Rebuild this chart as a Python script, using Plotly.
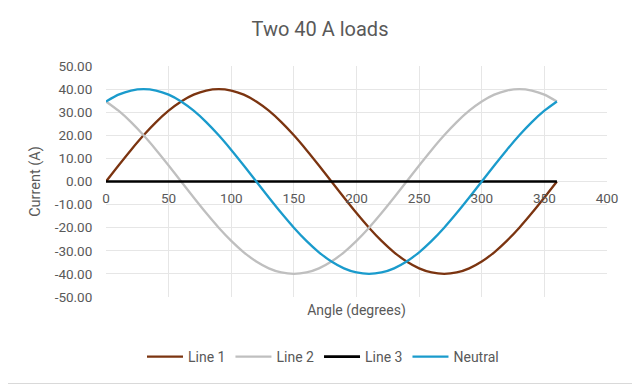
import plotly.graph_objects as go

angles = [0, 10, 20, 30, 40, 50, 60, 70, 80, 90, 100, 110, 120, 130, 140, 150, 160, 170, 180,
          190, 200, 210, 220, 230, 240, 250, 260, 270, 280, 290, 300, 310, 320, 330, 340, 350, 360]

line1 = [0, 6.95, 13.68, 20.00, 25.71, 30.64, 34.64, 37.59, 39.39, 40.00, 39.39, 37.59, 34.64,
         30.64, 25.71, 20.00, 13.68, 6.95, 0, -6.95, -13.68, -20.00, -25.71, -30.64, -34.64,
         -37.59, -39.39, -40.00, -39.39, -37.59, -34.64, -30.64, -25.71, -20.00, -13.68, -6.95, 0]

line2 = [34.64, 30.64, 25.71, 20.00, 13.68, 6.95, 0, -6.95, -13.68, -20.00, -25.71, -30.64, -34.64,
         -37.59, -39.39, -40.00, -39.39, -37.59, -34.64, -30.64, -25.71, -20.00, -13.68, -6.95, 0,
         6.95, 13.68, 20.00, 25.71, 30.64, 34.64, 37.59, 39.39, 40.00, 39.39, 37.59, 34.64]

line3 = [0, 0, 0, 0, 0, 0, 0, 0, 0, 0, 0, 0, 0, 0, 0, 0, 0, 0, 0,
         0, 0, 0, 0, 0, 0, 0, 0, 0, 0, 0, 0, 0, 0, 0, 0, 0, 0]

neutral = [34.64, 37.59, 39.39, 40.00, 39.39, 37.59, 34.64, 30.64, 25.71, 20.00, 13.68, 6.95, 0,
           -6.95, -13.68, -20.00, -25.71, -30.64, -34.64, -37.59, -39.39, -40.00, -39.39, -37.59,
           -34.64, -30.64, -25.71, -20.00, -13.68, -6.95, 0, 6.95, 13.68, 20.00, 25.71, 30.64, 34.64]

y_ticks = [50, 40, 30, 20, 10, 0, -10, -20, -30, -40, -50]
y_tick_labels = ["50.00", "40.00", "30.00", "20.00", "10.00", "0.00",
                 "-10.00", "-20.00", "-30.00", "-40.00", "-50.00"]
x_ticks = [0, 50, 100, 150, 200, 250, 300, 350, 400]

series = [
    ("Line 1", line1, "#7B3410", 2.3),
    ("Line 2", line2, "#BFBFBF", 2.3),
    ("Line 3", line3, "#000000", 2.6),
    ("Neutral", neutral, "#1A9BCC", 2.3),
]

FONT = "Roboto"
GREY = "#595959"
OFF = 8  # browser body margin shifts the figure by 8px

W, H = 640, 384
L, T, PR, PB = 106 - OFF, 66 - OFF, 607 - OFF, 297 - OFF

fig = go.Figure()
for name, vals, color, w in series:
    fig.add_trace(go.Scatter(x=angles, y=vals, name=name, mode="lines",
                             line=dict(color=color, width=w, shape="spline", smoothing=0.6)))

fig.add_trace(go.Scatter(x=[0, 400], y=[0, 0], xaxis="x2", mode="lines",
                         line=dict(width=0), showlegend=False, hoverinfo="skip"))

pw, ph = PR - L, PB - T

fig.update_layout(
    width=W, height=H,
    margin=dict(l=L, r=W - PR, t=T, b=H - PB, autoexpand=False),
    paper_bgcolor="white", plot_bgcolor="white",
    font=dict(family=FONT, color=GREY, size=13),
    title=dict(text="Two 40 A loads", x=(320 - OFF) / W, xref="container", xanchor="center",
               y=1 - (29 - OFF) / H, yref="container", yanchor="middle",
               font=dict(size=20, color=GREY, family=FONT)),
    xaxis=dict(range=[0, 400], tickvals=x_ticks, showticklabels=False,
               showgrid=True, gridcolor="#E6E6E6", gridwidth=1, zeroline=False,
               showline=False,
               title=dict(text="Angle (degrees)", standoff=8, font=dict(size=14, color=GREY))),
    xaxis2=dict(range=[0, 400], tickvals=x_ticks, overlaying="x", anchor="free", position=0.5,
                side="bottom", showgrid=False, zeroline=False, showline=False,
                ticks="outside", ticklen=4, tickcolor="rgba(0,0,0,0)",
                tickfont=dict(size=13.5, color=GREY)),
    yaxis=dict(range=[-50, 50], tickvals=y_ticks, ticktext=y_tick_labels,
               showgrid=True, gridcolor="#E6E6E6", gridwidth=1, zeroline=False,
               showline=False, ticks="outside", ticklen=10, tickcolor="rgba(0,0,0,0)",
               tickfont=dict(size=13.5, color=GREY),
               title=dict(text="Current (A)", standoff=10, font=dict(size=14.5, color=GREY))),
    legend=dict(orientation="h", x=(323 - OFF) / W, xref="container", xanchor="center",
                y=1 - (357 - OFF) / H, yref="container", yanchor="middle",
                font=dict(size=14, color=GREY), itemwidth=36, traceorder="normal"),
    shapes=[dict(type="rect", xref="paper", yref="paper",
                 x0=(0.5 - OFF - L) / pw, x1=(638.5 - OFF - L) / pw,
                 y0=(PB - (383.5 - OFF)) / ph, y1=(PB - (0.5 - OFF)) / ph,
                 line=dict(color="#D9D9D9", width=1), fillcolor="rgba(0,0,0,0)", layer="below")],
)

fig.write_html("out.html")
